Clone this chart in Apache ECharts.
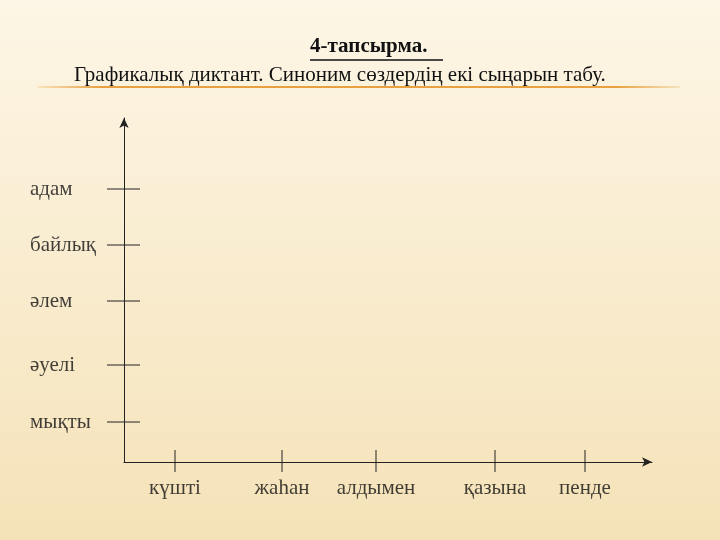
<!DOCTYPE html>
<html><head><meta charset="utf-8">
<script src="https://cdn.jsdelivr.net/npm/echarts@6/dist/echarts.min.js"></script>
<style>html,body{margin:0;padding:0}#c{width:720px;height:540px}</style></head>
<body><div id="c"></div>
<script>
const xLabels = ['күшті','жаһан','алдымен','қазына','пенде'];
const xPos = [51,158,252,371,461];
const yLabels = ['адам','байлық','әлем','әуелі','мықты'];
const yPos = [273,217,161,97,40];
const F = '"Liberation Serif", "DejaVu Serif", serif';
const series = [];
series.push({type:'custom',clip:false,silent:true,data:xPos.map(x=>[x,0]),renderItem:(p,api)=>{
  const c=api.coord([api.value(0),0]);
  return {type:'line',shape:{x1:c[0],y1:c[1]-12,x2:c[0],y2:c[1]+10},style:{stroke:'#222',lineWidth:1}};
}});
series.push({type:'custom',clip:false,silent:true,data:yPos.map(y=>[0,y]),renderItem:(p,api)=>{
  const c=api.coord([0,api.value(1)]);
  return {type:'line',shape:{x1:c[0]-17,y1:c[1],x2:c[0]+16,y2:c[1]},style:{stroke:'#222',lineWidth:1}};
}});
series.push({type:'scatter',symbolSize:0,clip:false,data:xPos.map((x,i)=>({value:[x,-26],label:{formatter:xLabels[i]}})),
  label:{show:true,position:'inside',fontFamily:F,fontSize:21,color:'#111'}});
series.push({type:'scatter',symbolSize:0,clip:false,data:yPos.map((y,i)=>({value:[-94,y],label:{formatter:yLabels[i]}})),
  label:{show:true,position:'right',distance:0,fontFamily:F,fontSize:21,color:'#111'}});
const chart = echarts.init(document.getElementById('c'));
chart.setOption({
  backgroundColor:{type:'linear',x:0,y:0,x2:0,y2:1,colorStops:[{offset:0,color:'#fdf6e6'},{offset:1,color:'#f5e2b8'}]},
  animation:false,
  grid:{left:124,right:68,top:118,bottom:78},
  xAxis:{type:'value',min:0,max:528,axisLine:{onZero:false,lineStyle:{color:'#222'},symbol:['none','arrow'],symbolSize:[7,10]},axisTick:{show:false},axisLabel:{show:false},splitLine:{show:false}},
  yAxis:{type:'value',min:0,max:344,axisLine:{show:true,onZero:false,lineStyle:{color:'#222'},symbol:['none','arrow'],symbolSize:[7,10]},axisTick:{show:false},axisLabel:{show:false},splitLine:{show:false}},
  series:series,
  graphic:[
    {type:'text',left:310,top:36,style:{text:'4-тапсырма.',fontFamily:F,fontSize:21,fontWeight:'bold',fill:'#111'}},
    {type:'line',shape:{x1:310,y1:60,x2:443,y2:60},style:{stroke:'#111',lineWidth:1.4}},
    {type:'rect',shape:{x:38,y:86,width:642,height:2},style:{fill:{type:'linear',x:0,y:0,x2:1,y2:0,colorStops:[{offset:0,color:'rgba(232,160,60,0.2)'},{offset:0.1,color:'#e8a040'},{offset:0.9,color:'#e8a040'},{offset:1,color:'rgba(232,160,60,0.2)'}]}}},
    {type:'text',left:74,top:65,style:{text:'Графикалық диктант. Синоним сөздердің екі сыңарын табу.',fontFamily:F,fontSize:21,fill:'#111'}}
  ]
});
</script></body></html>
